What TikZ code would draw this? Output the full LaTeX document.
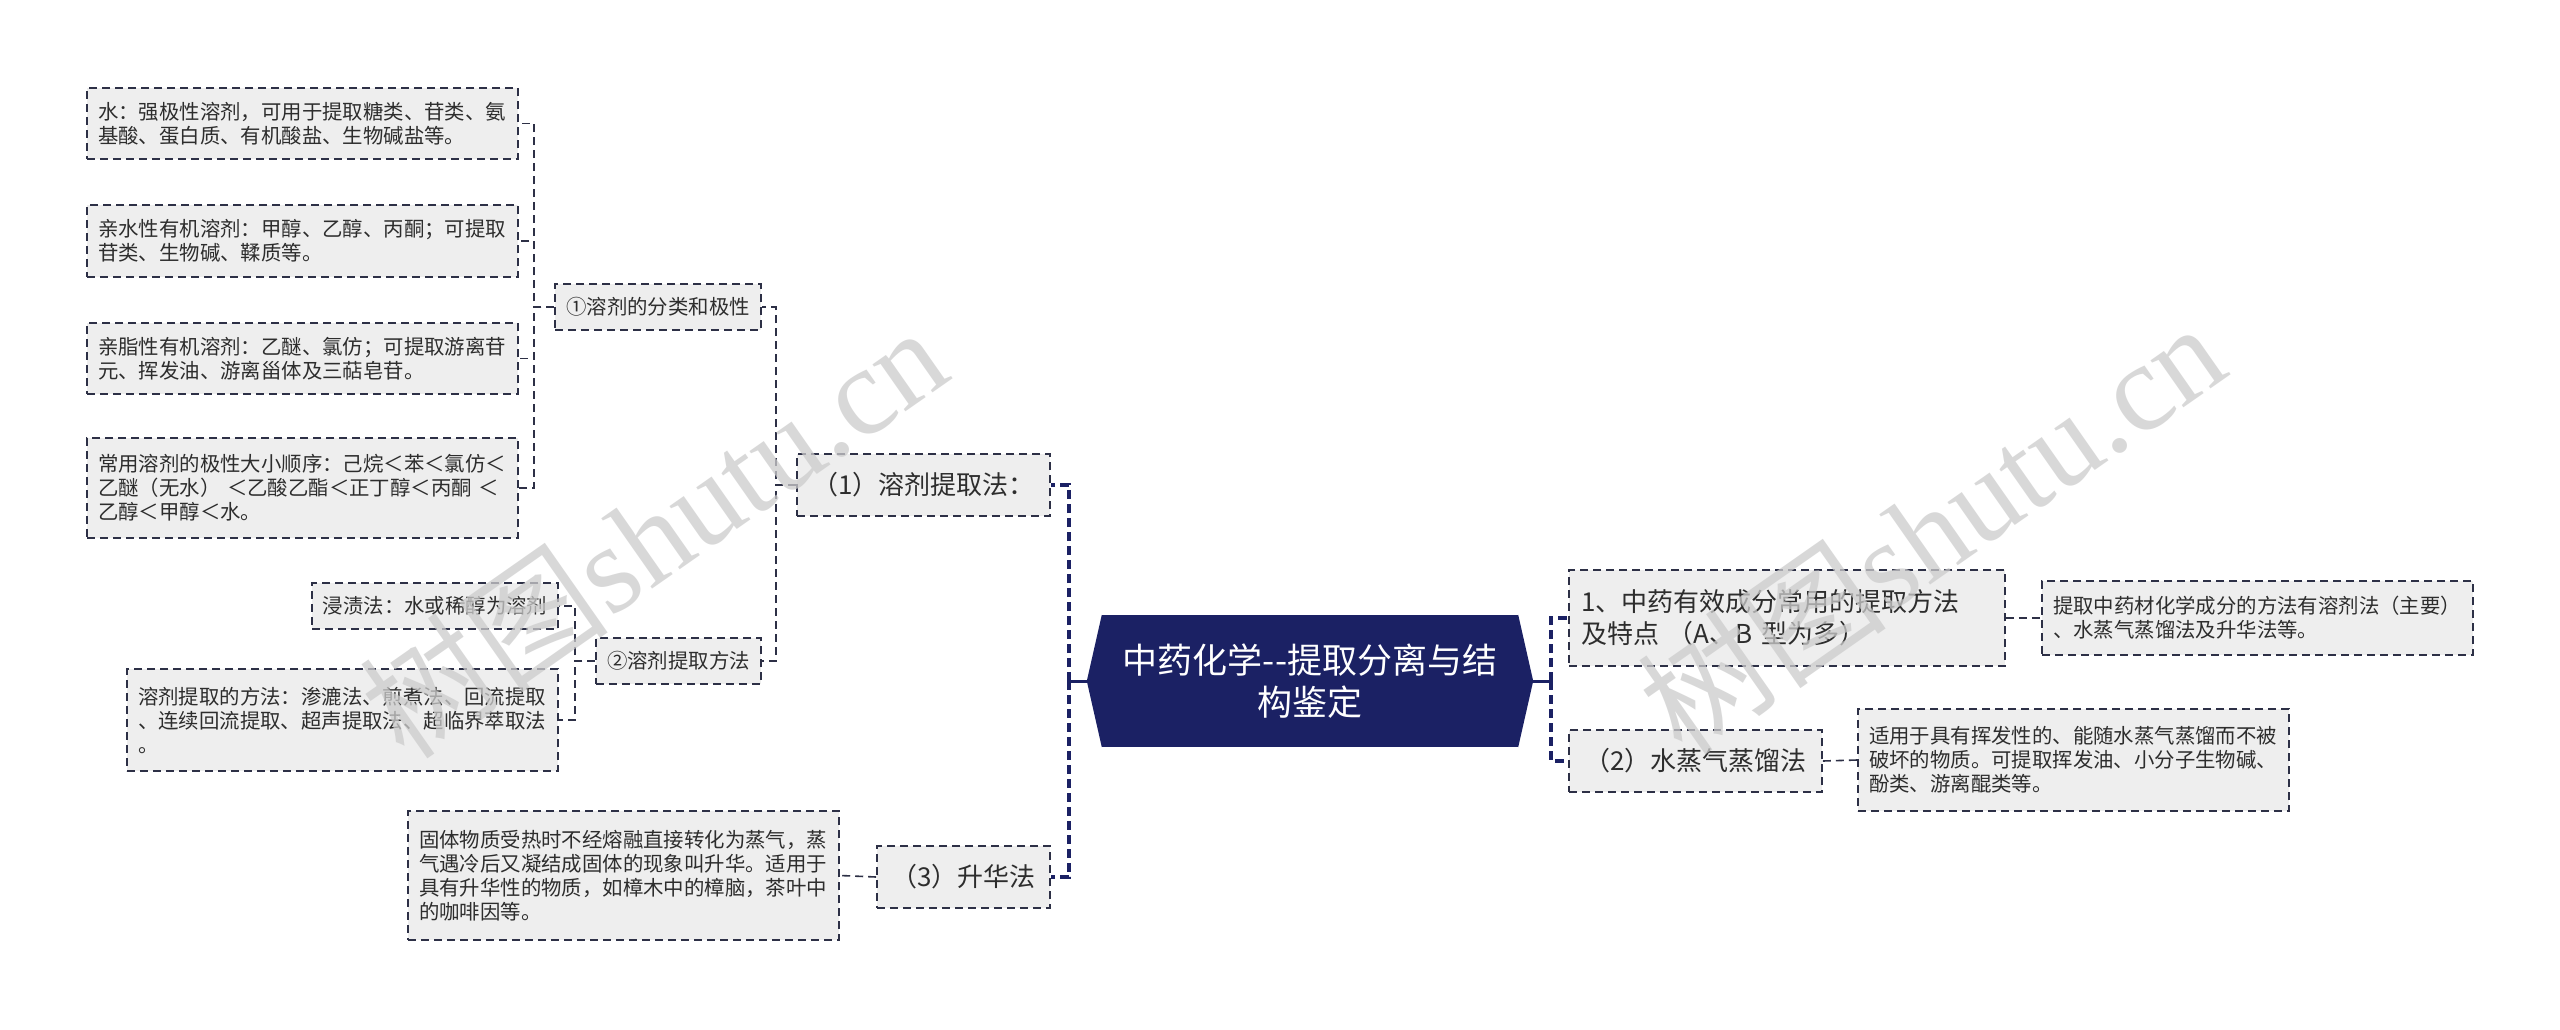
\documentclass[tikz,border=0pt]{standalone}
\usepackage{fontspec}
\setmainfont{Noto Sans CJK SC}
\newfontfamily\wmserif{Liberation Serif}
\usetikzlibrary{calc}
\definecolor{navy}{RGB}{27,33,100}
\definecolor{boxfill}{RGB}{238,238,238}
\definecolor{boxline}{RGB}{45,48,70}
\definecolor{txt}{RGB}{45,45,45}
\tikzset{
  sbox/.style={draw=boxline, line width=1.6pt, dash pattern=on 8pt off 5pt, fill=boxfill,
    inner xsep=11pt, inner ysep=0pt, align=left, text=txt,
    font=\fontsize{20.4}{24}\selectfont},
  cbox/.style={sbox, align=center, inner xsep=0pt},
  mbox/.style={sbox, align=center, inner xsep=0pt, font=\fontsize{26}{32}\selectfont},
  conn/.style={draw=boxline, line width=1.6pt, dash pattern=on 8pt off 5pt},
  mainconn/.style={draw=navy, line width=3.5pt, dash pattern=on 9pt off 5pt},
  wm/.style={rotate=35, text=black!20, opacity=0.75, font=\fontsize{125}{125}\selectfont}
}
\begin{document}
\begin{tikzpicture}[x=1pt, y=-1pt]
\useasboundingbox (0,0) rectangle (2560,1029);
\fill[white] (0,0) rectangle (2560,1029);

% central node
\node[fill=navy, text=white, align=center, inner sep=0pt, minimum width=416pt, minimum height=132pt,
  font=\fontsize{35}{42}\selectfont] (root) at (1310,681) {中药化学-{}-提取分离与结\\构鉴定};
\fill[navy] (root.north west) -- ($(root.west)+(-15,0)$) -- (root.south west) -- cycle;
\fill[navy] (root.north east) -- ($(root.east)+(15,0)$) -- (root.south east) -- cycle;
\coordinate (tipL) at ($(root.west)+(-15,0)$);
\coordinate (tipR) at ($(root.east)+(15,0)$);
\coordinate (jl) at (1069,681);
\coordinate (jr) at (1551,681);

% left level 2
\node[mbox, minimum width=253pt, minimum height=62pt] (c1) at (923.5,485) {（1）溶剂提取法：};
\node[mbox, minimum width=173pt, minimum height=62pt] (c3) at (963.5,877) {（3）升华法};

% level 3
\node[cbox, minimum width=206pt, minimum height=46pt] (b1) at (658,307) {①溶剂的分类和极性};
\node[cbox, minimum width=165pt, minimum height=46pt] (b2) at (678.5,661) {②溶剂提取方法};

% level 4
\node[sbox, text width=409pt, minimum height=71pt] (a1) at (302.5,123.5)
  {水：强极性溶剂，可用于提取糖类、苷类、氨\\基酸、蛋白质、有机酸盐、生物碱盐等。};
\node[sbox, text width=409pt, minimum height=72pt] (a2) at (302.5,241)
  {亲水性有机溶剂：甲醇、乙醇、丙酮；可提取\\苷类、生物碱、鞣质等。};
\node[sbox, text width=409pt, minimum height=71pt] (a3) at (302.5,358.5)
  {亲脂性有机溶剂：乙醚、氯仿；可提取游离苷\\元、挥发油、游离甾体及三萜皂苷。};
\node[sbox, text width=409pt, minimum height=100pt] (a4) at (302.5,488)
  {常用溶剂的极性大小顺序：己烷＜苯＜氯仿＜\\乙醚（无水） ＜乙酸乙酯＜正丁醇＜丙酮 ＜\\乙醇＜甲醇＜水。};
\node[cbox, minimum width=246pt, minimum height=46pt] (d1) at (435,606) {浸渍法：水或稀醇为溶剂};
\node[sbox, text width=409pt, minimum height=102pt] (d2) at (342.5,720)
  {溶剂提取的方法：渗漉法、煎煮法、回流提取\\、连续回流提取、超声提取法、超临界萃取法\\。};
\node[sbox, text width=409pt, minimum height=129pt] (e) at (623.5,875.5)
  {固体物质受热时不经熔融直接转化为蒸气，蒸\\气遇冷后又凝结成固体的现象叫升华。适用于\\具有升华性的物质，如樟木中的樟脑，茶叶中\\的咖啡因等。};

% right side
\node[sbox, text width=412pt, inner xsep=12pt, minimum height=96pt, font=\fontsize{26}{32}\selectfont] (r1) at (1787,618)
  {1、中药有效成分常用的提取方法\\及特点 （A、B 型为多）};
\node[sbox, text width=409pt, minimum height=74pt] (r1a) at (2257.5,618)
  {提取中药材化学成分的方法有溶剂法（主要）\\、水蒸气蒸馏法及升华法等。};
\node[mbox, minimum width=253pt, minimum height=62pt] (r2) at (1695.5,761) {（2）水蒸气蒸馏法};
\node[sbox, text width=409pt, minimum height=102pt] (r2a) at (2073.5,760)
  {适用于具有挥发性的、能随水蒸气蒸馏而不被\\破坏的物质。可提取挥发油、小分子生物碱、\\酚类、游离醌类等。};

% main connectors
\draw[navy, line width=3pt] (tipL) -- (jl);
\draw[mainconn] (jl) |- (c1.east);
\draw[mainconn] (jl) |- (c3.east);
\draw[navy, line width=3pt] (tipR) -- (jr);
\draw[mainconn] (jr) |- (r1.west);
\draw[mainconn] (jr) |- (r2.west);

% sub connectors
\draw[conn] (c1.west) -- ++(-20,0) |- (b1.east);
\draw[conn] (c1.west) -- ++(-20,0) |- (b2.east);
\draw[conn] (b1.west) -- ++(-20,0) |- (a1.east);
\draw[conn] (b1.west) -- ++(-20,0) |- (a2.east);
\draw[conn] (b1.west) -- ++(-20,0) |- (a3.east);
\draw[conn] (b1.west) -- ++(-20,0) |- (a4.east);
\draw[conn] (b2.west) -- ++(-20,0) |- (d1.east);
\draw[conn] (b2.west) -- ++(-20,0) |- (d2.east);
\draw[conn] (c3.west) -- (e.east);
\draw[conn] (r1.east) -- (r1a.west);
\draw[conn] (r2.east) -- (r2a.west);

% watermarks
\node[wm] (wm1) at (653,531) {树图{\wmserif shutu.cn}};
\node[wm] (wm2) at (1931,527) {树图{\wmserif shutu.cn}};
\end{tikzpicture}
\end{document}
